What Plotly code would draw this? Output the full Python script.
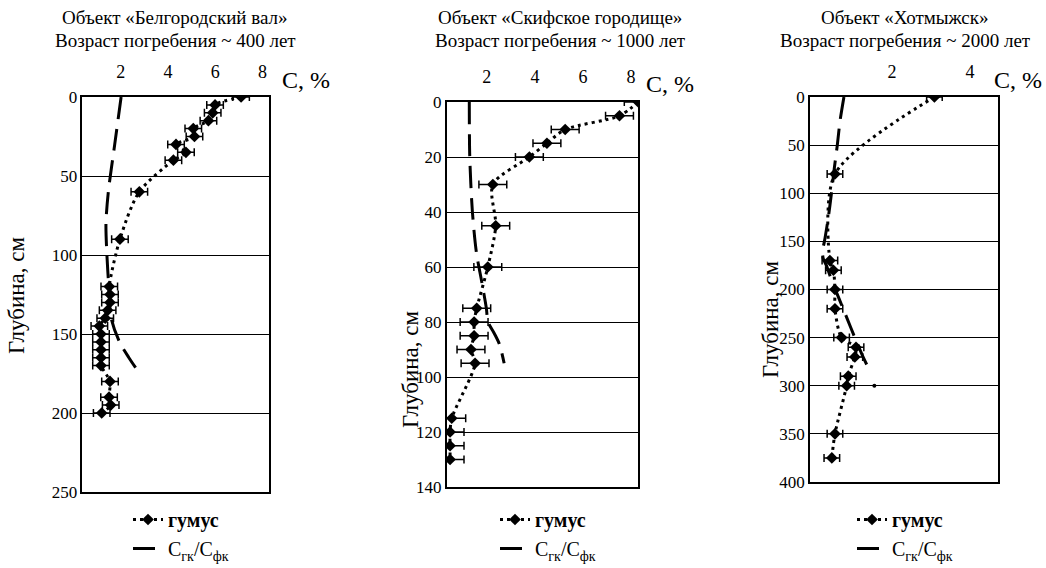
import plotly.graph_objects as go

# ---------------- data ----------------
# Panel 1: Белгородский вал
bel_depth = [0, 5, 10, 15, 20, 25, 30, 35, 40, 60, 90, 120, 125, 130, 135, 140, 145,
             150, 155, 160, 165, 170, 180, 190, 195, 200]
bel_hum = [7.09, 5.99, 5.89, 5.71, 5.07, 5.12, 4.34, 4.76, 4.23, 2.79, 1.97, 1.52, 1.55,
           1.55, 1.45, 1.35, 1.10, 1.17, 1.17, 1.17, 1.17, 1.17, 1.55, 1.51, 1.58, 1.20]
bel_err = [0.35] * len(bel_depth)
bel_ratio_depth = [0, 30, 60, 80, 100, 120, 140, 155, 165, 176]
bel_ratio = [2.02, 1.75, 1.48, 1.38, 1.42, 1.50, 1.60, 1.95, 2.35, 2.85]

# Panel 2: Скифское городище
sk_depth = [0, 5, 10, 15, 20, 30, 45, 60, 75, 80, 85, 90, 95, 115, 120, 125, 130]
sk_hum = [8.3, 7.52, 5.26, 4.5, 3.77, 2.25, 2.37, 2.04, 1.58, 1.47, 1.47, 1.34, 1.51,
          0.54, 0.47, 0.47, 0.47]
sk_err = [0.58] * len(sk_depth)
sk_ratio_depth = [0, 20, 40, 55, 65, 75, 80, 84, 88, 95]
sk_ratio = [1.27, 1.29, 1.40, 1.57, 1.78, 1.98, 2.05, 2.30, 2.52, 2.72]

# Panel 3: Хотмыжск
hot_depth = [0, 80, 170, 180, 200, 220, 250, 260, 270, 290, 300, 350, 375]
hot_hum = [3.09, 0.54, 0.41, 0.50, 0.54, 0.54, 0.71, 1.08, 1.05, 0.88, 0.84, 0.54, 0.46]
hot_err = [0.2] * len(hot_depth)
hot_ratio_depth = [0, 25, 50, 75, 100, 125, 150, 160, 168, 175, 190, 210, 230, 250, 270, 285]
hot_ratio = [0.77, 0.67, 0.60, 0.52, 0.45, 0.37, 0.27, 0.22, 0.24, 0.32, 0.45, 0.65,
             0.85, 1.05, 1.26, 1.44]
hot_extra_depth = [300]
hot_extra = [1.55]

title_line1 = ["Объект «Белгородский вал»", "Объект «Скифское городище»", "Объект «Хотмыжск»"]
title_line2 = ["Возраст погребения ~ 400 лет", "Возраст погребения ~ 1000 лет",
               "Возраст погребения ~ 2000 лет"]
x_ticks = [[2, 4, 6, 8], [2, 4, 6, 8], [2, 4]]
x_ranges = [[0.38, 8.27], [0.33, 8.29], [-0.1, 4.72]]
y_ranges = [[250, 0], [140, 0], [400, 0]]
y_dticks = [50, 20, 50]
hum_name = "<b>гумус</b>"
ratio_name = "C<sub>гк</sub>/C<sub>фк</sub>"
y_title = "Глубина, см"
x_unit = "C, %"

# ---------------- layout geometry ----------------
W, H = 1046, 568
x_dom = [[82.3 / W, 269 / W], [446.7 / W, 638 / W], [810 / W, 998 / W]]
y_px = [[97, 492], [102, 487], [97, 482]]
y_dom = [[1 - b / H, 1 - t / H] for t, b in y_px]

FONT = "Liberation Serif"

fig = go.Figure()

panels = [
    (bel_depth, bel_hum, bel_err, bel_ratio_depth, bel_ratio),
    (sk_depth, sk_hum, sk_err, sk_ratio_depth, sk_ratio),
    (hot_depth, hot_hum, hot_err, hot_ratio_depth, hot_ratio),
]
legend_ids = ["legend", "legend2", "legend3"]

for i, (dep, hum, err, rdep, rat) in enumerate(panels):
    xa = "x" if i == 0 else f"x{i+1}"
    ya = "y" if i == 0 else f"y{i+1}"
    fig.add_trace(go.Scatter(
        x=hum, y=dep, xaxis=xa, yaxis=ya, name=hum_name, legend=legend_ids[i],
        mode="lines+markers",
        line=dict(color="black", width=3, dash="3px,4px", shape="spline", smoothing=0.8),
        marker=dict(symbol="diamond", size=9, color="black"),
        error_x=dict(type="data", array=err, visible=True, color="black",
                     thickness=1.5, width=4),
    ))
    fig.add_trace(go.Scatter(
        x=rat, y=rdep, xaxis=xa, yaxis=ya, name=ratio_name, legend=legend_ids[i],
        mode="lines",
        line=dict(color="black", width=3, dash="22px,10px", shape="spline", smoothing=0.8),
    ))

fig.add_trace(go.Scatter(
    x=hot_extra, y=hot_extra_depth, xaxis="x3", yaxis="y3", mode="markers",
    marker=dict(size=4, color="black"), showlegend=False, hoverinfo="skip",
))

for i in range(3):
    sfx = "" if i == 0 else str(i + 1)
    fig.layout[f"xaxis{sfx}"] = dict(
        domain=x_dom[i], range=x_ranges[i], side="top", tickvals=x_ticks[i],
        showgrid=False, zeroline=False, showline=True, mirror=True,
        linecolor="black", linewidth=1.5, ticks="", ticklabelstandoff=10,
        tickfont=dict(family=FONT, size=18, color="black"),
        anchor="y" + sfx, automargin=False,
    )
    fig.layout[f"yaxis{sfx}"] = dict(
        domain=y_dom[i], range=y_ranges[i], dtick=y_dticks[i], tick0=0,
        showgrid=True, gridcolor="black", gridwidth=1.2, zeroline=False,
        showline=True, mirror=True, linecolor="black", linewidth=1.5, ticks="",
        tickfont=dict(family=FONT, size=17, color="black"),
        anchor="x" + sfx, automargin=False,
    )

annotations = []
title_cx = [175, 560, 905]
for i in range(3):
    for txt, cy in ((title_line1[i], 18), (title_line2[i], 40)):
        annotations.append(dict(
            text=txt, x=title_cx[i] / W, y=1 - cy / H, xref="paper", yref="paper",
            xanchor="center", yanchor="middle", showarrow=False,
            font=dict(family=FONT, size=19, color="black"),
        ))
unit_pos = [(306, 80), (670, 84), (1018, 80)]
for (ux, uy) in unit_pos:
    annotations.append(dict(
        text=x_unit, x=ux / W, y=1 - uy / H, xref="paper", yref="paper",
        xanchor="center", yanchor="middle", showarrow=False,
        font=dict(family=FONT, size=24, color="black"),
    ))
ytitle_pos = [(16, 296), (410, 370), (770, 320)]
for (tx, ty) in ytitle_pos:
    annotations.append(dict(
        text=y_title, x=tx / W, y=1 - ty / H, xref="paper", yref="paper",
        xanchor="center", yanchor="middle", showarrow=False, textangle=-90,
        font=dict(family=FONT, size=23, color="black"),
    ))

leg_x = [128, 495, 852]
legend_common = dict(
    yanchor="bottom", xanchor="left", bgcolor="rgba(0,0,0,0)",
    font=dict(family=FONT, size=20, color="black"), tracegroupgap=0,
    itemwidth=30, y=0,
)
fig.update_layout(
    width=W, height=H, margin=dict(l=0, r=0, t=0, b=0, autoexpand=False),
    paper_bgcolor="white", plot_bgcolor="white",
    font=dict(family=FONT, color="black"),
    annotations=annotations,
    legend=dict(x=leg_x[0] / W, **legend_common),
    legend2=dict(x=leg_x[1] / W, **legend_common),
    legend3=dict(x=leg_x[2] / W, **legend_common),
    showlegend=True,
)

fig.write_html("out.html")
